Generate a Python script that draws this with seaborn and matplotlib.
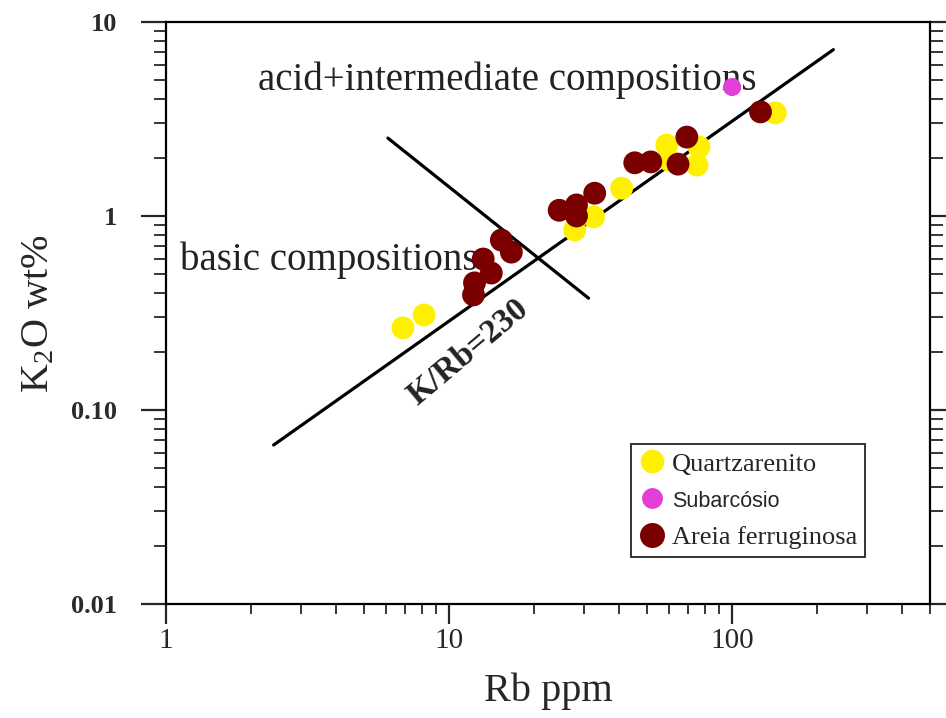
import numpy as np
import pandas as pd
import matplotlib
matplotlib.use("Agg")
import matplotlib.pyplot as plt
from matplotlib.lines import Line2D
from matplotlib.ticker import LogLocator, FixedLocator, FixedFormatter, NullFormatter
import seaborn as sns

# ---- data ----
quartz_rb = [6.87, 8.16, 27.8, 32.4, 40.7, 58.8, 59.8, 76.4, 75.2, 142]
quartz_k2o = [0.265, 0.309, 0.847, 0.99, 1.39, 2.32, 1.94, 2.27, 1.83, 3.40]

subarc_rb = [100]
subarc_k2o = [4.62]

ferr_rb = [12.2, 12.3, 14.1, 13.2, 15.3, 16.6, 24.5, 28.2, 28.2, 32.7, 45.3, 51.6, 64.4, 69.2, 126]
ferr_k2o = [0.392, 0.452, 0.508, 0.60, 0.751, 0.651, 1.07, 1.14, 1.0, 1.31, 1.88, 1.90, 1.85, 2.55, 3.44]

groups = ["Quartzarenito", "Subarcósio", "Areia ferruginosa"]
colors = ["#FFF000", "#E23FD6", "#7A0000"]

# reference lines
krb_line_rb = [2.4, 228]
krb_line_k2o = [0.066, 7.2]
divide_rb = [6.08, 31.1]
divide_k2o = [2.52, 0.377]

x_ticks = [1, 10, 100]
x_ticklabels = ["1", "10", "100"]
y_ticks = [0.01, 0.1, 1, 10]
y_ticklabels = ["0.01", "0.10", "1", "10"]

df = pd.DataFrame({
    "Rb": quartz_rb + subarc_rb + ferr_rb,
    "K2O": quartz_k2o + subarc_k2o + ferr_k2o,
    "grupo": [groups[0]] * len(quartz_rb) + [groups[1]] * len(subarc_rb) + [groups[2]] * len(ferr_rb),
})

sns.set_theme(style="ticks")
plt.rcParams["font.family"] = ["Liberation Serif", "DejaVu Serif"]
plt.rcParams["mathtext.fontset"] = "stix"

fig = plt.figure(figsize=(9.46, 7.18), dpi=100)
ax = fig.add_axes([0.1755, 0.1588, 0.8075, 0.8106])

palette = dict(zip(groups, colors))
size_map = {groups[0]: 270, groups[1]: 170, groups[2]: 270}
for g in groups:
    sub = df[df["grupo"] == g]
    sns.scatterplot(data=sub, x="Rb", y="K2O", color=palette[g], s=size_map[g],
                    edgecolor="none", linewidth=0, ax=ax, legend=False, zorder=3)

sns.lineplot(x=krb_line_rb, y=krb_line_k2o, color="black", lw=2.3, ax=ax, zorder=2)
sns.lineplot(x=divide_rb, y=divide_k2o, color="black", lw=2.3, ax=ax, zorder=2)

ax.set_xscale("log")
ax.set_yscale("log")
ax.set_xlim(1, 500)
ax.set_ylim(0.01, 10)

ax.xaxis.set_major_locator(FixedLocator(x_ticks))
ax.xaxis.set_major_formatter(FixedFormatter(x_ticklabels))
ax.yaxis.set_major_locator(FixedLocator(y_ticks))
ax.yaxis.set_major_formatter(FixedFormatter(y_ticklabels))
ax.xaxis.set_minor_locator(LogLocator(base=10, subs=np.arange(2, 10)))
ax.yaxis.set_minor_locator(LogLocator(base=10, subs=np.arange(2, 10)))
ax.xaxis.set_minor_formatter(NullFormatter())
ax.yaxis.set_minor_formatter(NullFormatter())

ax.tick_params(axis="x", which="major", direction="out", length=14.5, width=1.6,
               labelsize=21, pad=3, bottom=True, top=False)
ax.tick_params(axis="x", which="minor", direction="out", length=7, width=1.3,
               bottom=True, top=False)
ax.tick_params(axis="y", which="major", direction="out", length=18, width=1.6,
               labelsize=19, pad=17, left=True, right=True)
ax.tick_params(axis="y", which="minor", direction="out", length=9, width=1.3,
               left=True, right=True)
for lab in ax.get_yticklabels():
    lab.set_fontweight("bold")
    lab.set_color("#2a2a2a")

for sp in ax.spines.values():
    sp.set_linewidth(1.6)
    sp.set_color("black")

ax.set_xlabel("Rb ppm", fontsize=29, labelpad=13)
ax.set_ylabel(r"K$_\mathregular{2}$O wt%", fontsize=29, labelpad=10)

ax.text(2.12, 5.02, "acid+intermediate compositions", fontsize=28,
        ha="left", va="center", color="#222222", zorder=1)
ax.text(1.12, 0.593, "basic compositions", fontsize=28,
        ha="left", va="center", color="#222222", zorder=1)
ax.text(11.7, 0.199, "K/Rb=230", fontsize=24, fontweight="bold",
        rotation=40, ha="center", va="center", color="#222222",
        rotation_mode="anchor")

handles = [
    Line2D([], [], marker="o", ls="none", markerfacecolor=colors[0], markeredgecolor="none", markersize=17),
    Line2D([], [], marker="o", ls="none", markerfacecolor=colors[1], markeredgecolor="none", markersize=15),
    Line2D([], [], marker="o", ls="none", markerfacecolor=colors[2], markeredgecolor="none", markersize=18),
]
leg = ax.legend(handles, groups, loc="lower right", bbox_to_anchor=(0.915, 0.081),
                frameon=True, fancybox=False, fontsize=19, labelspacing=0.5,
                handletextpad=0.25, borderpad=0.3, handlelength=1.0, borderaxespad=0)
leg.get_frame().set_edgecolor("black")
leg.get_frame().set_linewidth(1.4)
texts = leg.get_texts()
texts[1].set_family(["Liberation Sans", "DejaVu Sans"])
texts[1].set_fontsize(15.5)

fig.savefig("out.png", dpi=100)
